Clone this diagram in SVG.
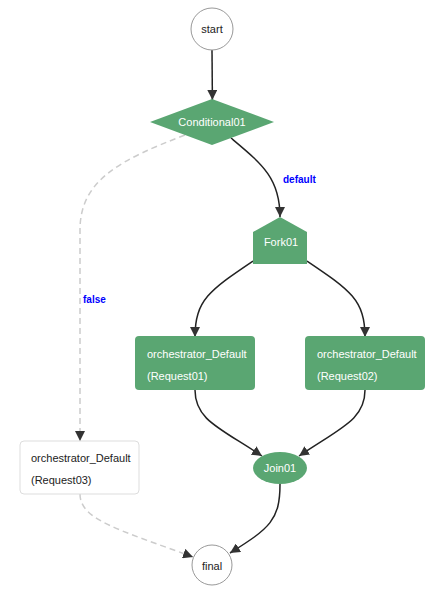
<svg xmlns="http://www.w3.org/2000/svg" width="441" height="600" viewBox="0 0 441 600">
<style>
text{font-family:"Liberation Sans",Arial,sans-serif;font-size:11px}
.g{fill:#5aa672}
.w{fill:#fff}
.d{fill:#222}
.e{fill:none;stroke:#222;stroke-width:1.5}
.ed{fill:none;stroke:#ccc;stroke-width:1.5;stroke-dasharray:6,4}
.lbl{fill:#0000ff;font-weight:bold;font-size:10px}
.c{fill:#fff;stroke:#999;stroke-width:1}
</style>
<defs>
<marker id="a" viewBox="0 0 10 10" refX="10" refY="5" markerWidth="10" markerHeight="10" markerUnits="userSpaceOnUse" orient="auto">
<path d="M0,0L10,5L0,10z" fill="#333"/>
</marker>
</defs>
<rect width="441" height="600" fill="#fff"/>
<g id="edges">
<path class="e" d="M212,50 L212.4,100" marker-end="url(#a)"/>
<path class="e" d="M231,138 C262,164 280,178 280,217" marker-end="url(#a)"/>
<path class="ed" d="M185,135 C120,160 80,180 80,230 L80,441" marker-end="url(#a)"/>
<path class="e" d="M253,261 C210,290 195,300 195,337" marker-end="url(#a)"/>
<path class="e" d="M307,261 C350,290 365,300 365,337" marker-end="url(#a)"/>
<path class="e" d="M195,390 C195,420 220,428 262,456" marker-end="url(#a)"/>
<path class="e" d="M365,390 C365,420 340,428 299,456" marker-end="url(#a)"/>
<path class="e" d="M280,484 C280,520 270,528 230,553" marker-end="url(#a)"/>
<path class="ed" d="M80,494 C80,520 120,530 193,557" marker-end="url(#a)"/>
<text class="lbl" x="283" y="183">default</text>
<text class="lbl" x="83" y="303">false</text>
</g>
<g id="start"><circle class="c" cx="212" cy="29" r="21"/><text class="d" x="212" y="33" text-anchor="middle">start</text></g>
<g id="Conditional01"><polygon class="g" points="150,122 212,99 274,122 212,145"/><text class="w" x="212" y="126" text-anchor="middle">Conditional01</text></g>
<g id="Fork01"><polygon class="g" points="280,217 307,232 307,264 253,264 253,232"/><text class="w" x="281" y="246" text-anchor="middle">Fork01</text></g>
<g id="Request01"><rect class="g" x="135" y="336" width="120" height="54" rx="4"/><text class="w" x="147" y="358">orchestrator_Default</text><text class="w" x="147" y="380">(Request01)</text></g>
<g id="Request02"><rect class="g" x="305" y="336" width="120" height="54" rx="4"/><text class="w" x="317" y="358">orchestrator_Default</text><text class="w" x="317" y="380">(Request02)</text></g>
<g id="Request03"><rect x="20" y="441" width="119" height="53" rx="4" fill="#fff" stroke="#ddd"/><text class="d" x="31" y="462">orchestrator_Default</text><text class="d" x="31" y="484">(Request03)</text></g>
<g id="Join01"><ellipse class="g" cx="280" cy="468" rx="27" ry="16"/><text class="w" x="280" y="472" text-anchor="middle">Join01</text></g>
<g id="final"><circle class="c" cx="212" cy="565" r="20"/><text class="d" x="212" y="570" text-anchor="middle">final</text></g>
</svg>
